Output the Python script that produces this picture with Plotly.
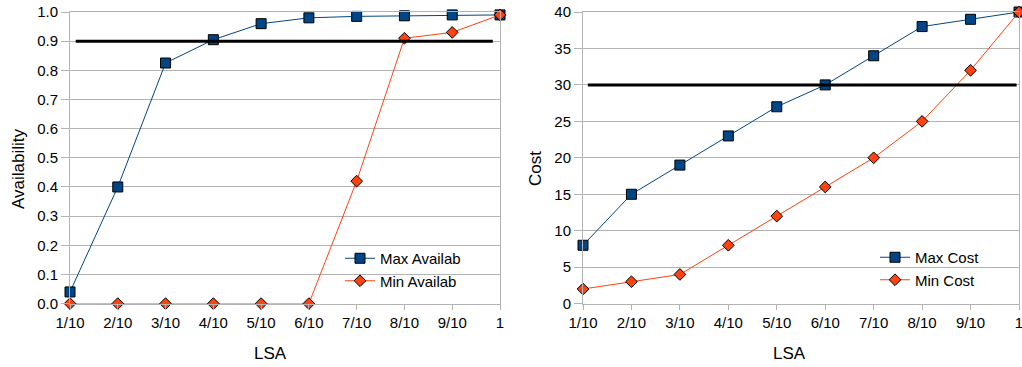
import plotly.graph_objects as go

categories = ["1/10", "2/10", "3/10", "4/10", "5/10", "6/10", "7/10", "8/10", "9/10", "1"]
max_availab = [0.04, 0.40, 0.825, 0.905, 0.96, 0.98, 0.985, 0.987, 0.99, 0.99]
min_availab = [0.0, 0.0, 0.0, 0.0, 0.0, 0.0, 0.42, 0.91, 0.93, 0.99]
max_cost = [8, 15, 19, 23, 27, 30, 34, 38, 39, 40]
min_cost = [2, 3, 4, 8, 12, 16, 20, 25, 32, 40]
availab_threshold = 0.9
cost_threshold = 30
avail_ticks = [0.0, 0.1, 0.2, 0.3, 0.4, 0.5, 0.6, 0.7, 0.8, 0.9, 1.0]
cost_ticks = [0, 5, 10, 15, 20, 25, 30, 35, 40]

W, H = 1022, 367
FONT = "Liberation Sans, Arial, sans-serif"
BLUE = "#004586"
ORANGE = "#ff420e"
GRID = "#b3b3b3"

xidx = list(range(len(categories)))

fig = go.Figure()

def add_series(y, name, color, symbol, size, xa, ya, legend):
    fig.add_trace(go.Scatter(
        x=xidx, y=y, name=name, mode="lines+markers",
        line=dict(color=color, width=1),
        marker=dict(symbol=symbol, size=size, color=color, line=dict(color="black", width=1)),
        xaxis=xa, yaxis=ya, legend=legend, cliponaxis=False,
    ))

add_series(max_availab, "Max Availab", BLUE, "square", 10, "x", "y", "legend")
add_series(min_availab, "Min Availab", ORANGE, "diamond", 9, "x", "y", "legend")
add_series(max_cost, "Max Cost", BLUE, "square", 10, "x2", "y2", "legend2")
add_series(min_cost, "Min Cost", ORANGE, "diamond", 9, "x2", "y2", "legend2")

fig.add_shape(type="line", xref="x", yref="y", x0=0.12, x1=8.85,
              y0=availab_threshold, y1=availab_threshold, line=dict(color="black", width=3))
fig.add_shape(type="line", xref="x2", yref="y2", x0=0.1, x1=8.95,
              y0=cost_threshold, y1=cost_threshold, line=dict(color="black", width=3))

ydom = [1 - 303.6 / H, 1 - 12 / H]
xcommon = dict(tickmode="array", tickvals=xidx, ticktext=categories, range=[0, len(categories) - 1],
               showgrid=False, showline=True, linecolor=GRID, linewidth=1, mirror=True,
               ticks="outside", ticklen=5, tickcolor=GRID, zeroline=False, automargin=False,
               ticklabeloverflow="allow",
               tickfont=dict(family=FONT, size=15, color="#000"), fixedrange=True)
ycommon = dict(showgrid=True, gridcolor=GRID, gridwidth=1, showline=True, linecolor=GRID, linewidth=1,
               mirror=True, ticks="outside", ticklen=8, tickcolor=GRID, zeroline=False, automargin=False,
               ticklabeloverflow="allow",
               tickfont=dict(family=FONT, size=15, color="#000"), domain=ydom, fixedrange=True)

fig.update_layout(
    width=W, height=H, margin=dict(l=0, r=0, t=0, b=0, autoexpand=False),
    paper_bgcolor="white", plot_bgcolor="white",
    font=dict(family=FONT, size=14, color="#000"),
    xaxis=dict(domain=[70 / W, 500 / W], anchor="y", **xcommon),
    yaxis=dict(anchor="x", range=[0, 1], tickvals=avail_ticks, tickformat=".1f", **ycommon),
    xaxis2=dict(domain=[583 / W, 1019 / W], anchor="y2", **xcommon),
    yaxis2=dict(anchor="x2", range=[0, 40], tickvals=cost_ticks, **ycommon),
    legend=dict(x=340 / W, y=1 - 242 / H, xanchor="left", yanchor="top", bgcolor="rgba(0,0,0,0)",
                font=dict(family=FONT, size=15), tracegroupgap=0, itemwidth=30),
    legend2=dict(x=875 / W, y=1 - 241 / H, xanchor="left", yanchor="top", bgcolor="rgba(0,0,0,0)",
                 font=dict(family=FONT, size=15), tracegroupgap=0, itemwidth=30),
    showlegend=True,
)

titles = [
    ("Availability", 18, 169, -90),
    ("LSA", 270, 353, 0),
    ("Cost", 535, 169, -90),
    ("LSA", 789, 353, 0),
]
for text, px, py, ang in titles:
    fig.add_annotation(text=text, xref="paper", yref="paper", x=px / W, y=1 - py / H,
                       xanchor="center", yanchor="middle", showarrow=False, textangle=ang,
                       font=dict(family=FONT, size=17, color="#000"))

fig.write_html("out.html")
